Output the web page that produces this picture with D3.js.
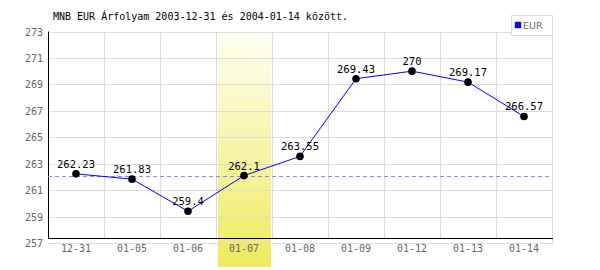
<!DOCTYPE html>
<html><head><meta charset="utf-8">
<script src="https://cdn.jsdelivr.net/npm/d3@7"></script>
<style>body{margin:0;background:#fff}svg{display:block}</style>
</head><body>
<svg id="c" width="600" height="270"></svg>
<script>
const categories = ["12-31","01-05","01-06","01-07","01-08","01-09","01-12","01-13","01-14"];
const values = [262.23,261.83,259.4,262.1,263.55,269.43,270,269.17,266.57];
const yTicks = [257,259,261,263,265,267,269,271,273];
const highlightCategory = "01-07";
const referenceValue = 262.1;
const seriesName = "EUR";
const title = "MNB EUR Árfolyam 2003-12-31 és 2004-01-14 között.";

(function(){
const svg = d3.select("#c");
const pL = 48, pR = 552, pT = 31.5, pB = 243, axisY = 238;
const x = d3.scaleBand().domain(categories).range([pL, pR]).padding(0);
const y = d3.scaleLinear().domain([257, 273]).range([pB, pT]);
const mono = "DejaVu Sans Mono, monospace";

const defs = svg.append("defs");
const g = defs.append("linearGradient").attr("id","hl").attr("x1",0).attr("x2",0).attr("y1",0).attr("y2",1);
g.append("stop").attr("offset","0%").attr("stop-color","#fffff4");
g.append("stop").attr("offset","100%").attr("stop-color","#eeea5c");

svg.append("rect").attr("x", x(highlightCategory)+2).attr("y", pT)
  .attr("width", x.bandwidth()-3).attr("height", 267-pT).attr("fill","url(#hl)");

svg.append("g").selectAll("line").data(yTicks).join("line")
  .attr("x1", pL).attr("x2", pR).attr("y1", d=>Math.round(y(d))+0.5).attr("y2", d=>Math.round(y(d))+0.5)
  .attr("stroke","#dcdcdc");
svg.append("g").selectAll("line").data(categories.slice(1)).join("line")
  .attr("x1", d=>x(d)+0.5).attr("x2", d=>x(d)+0.5).attr("y1", pT).attr("y2", axisY)
  .attr("stroke","#dcdcdc");
svg.append("line").attr("x1", pR+0.5).attr("x2", pR+0.5).attr("y1", pT).attr("y2", pB+0.5).attr("stroke","#dcdcdc");

svg.append("line").attr("x1", pL+0.5).attr("x2", pL+0.5).attr("y1", pT).attr("y2", axisY+1).attr("stroke","#000");
svg.append("line").attr("x1", pL).attr("x2", pR+1).attr("y1", axisY+0.5).attr("y2", axisY+0.5).attr("stroke","#000");

svg.append("g").selectAll("text").data(yTicks).join("text")
  .attr("x", 43).attr("y", d=>y(d)+4).attr("text-anchor","end")
  .attr("font-family", mono).attr("font-size", 10).attr("fill","#666").text(d=>d);
svg.append("g").selectAll("text").data(categories).join("text")
  .attr("x", d=>x(d)+x.bandwidth()/2).attr("y", 252).attr("text-anchor","middle")
  .attr("font-family", mono).attr("font-size", 10).attr("fill","#666").text(d=>d);

svg.append("line").attr("x1", pL).attr("x2", pR).attr("y1", Math.round(y(referenceValue))+0.5).attr("y2", Math.round(y(referenceValue))+0.5)
  .attr("stroke","#8888ff").attr("stroke-dasharray","4,3");

const pts = categories.map((c,i)=>({c, v: values[i]}));
svg.append("path").datum(pts)
  .attr("d", d3.line().x(d=>x(d.c)+x.bandwidth()/2).y(d=>y(d.v)))
  .attr("fill","none").attr("stroke","#0000ff").attr("stroke-width",1);
svg.append("g").selectAll("circle").data(pts).join("circle")
  .attr("cx", d=>x(d.c)+x.bandwidth()/2).attr("cy", d=>y(d.v)).attr("r",3.8).attr("fill","#000");
svg.append("g").selectAll("text").data(pts).join("text")
  .attr("x", d=>x(d.c)+x.bandwidth()/2).attr("y", d=>y(d.v)-6).attr("text-anchor","middle")
  .attr("font-family", mono).attr("font-size", 10.5).attr("fill","#000").text(d=>d.v);

svg.append("text").attr("x", 53).attr("y", 20).attr("font-family", mono).attr("font-size", 10)
  .attr("fill","#000").text(title);

svg.append("rect").attr("x", 511.5).attr("y", 15.5).attr("width", 41).attr("height", 20).attr("fill","#fff").attr("stroke","#dcdcdc");
svg.append("rect").attr("x", 515).attr("y", 22).attr("width", 6).attr("height", 6).attr("fill","#0000ff").attr("stroke","#333").attr("stroke-width",0.5);
svg.append("text").attr("x", 523).attr("y", 29).attr("font-family","DejaVu Sans, sans-serif").attr("font-size", 9.5).attr("fill","#666").text(seriesName);
})();
</script>
</body></html>
